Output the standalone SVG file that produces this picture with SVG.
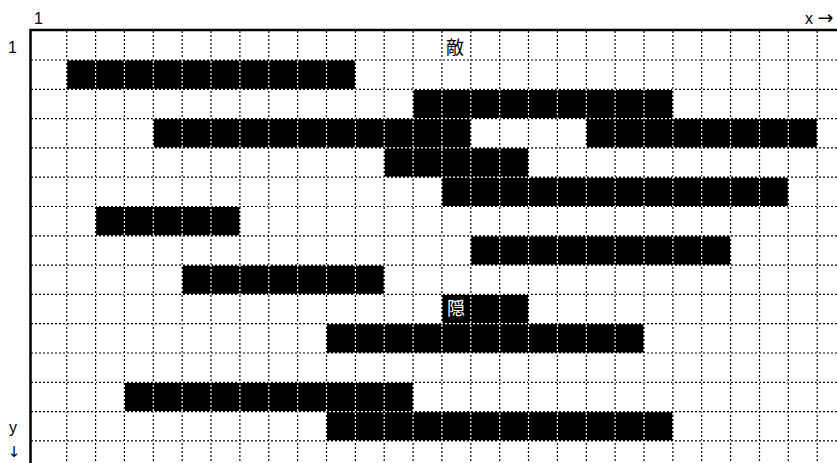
<svg xmlns="http://www.w3.org/2000/svg" width="837" height="463" viewBox="0 0 837 463">
<style>
.bar{fill:#000}
.gb{stroke:#000;stroke-width:1.2;stroke-dasharray:2 2;fill:none}
.gw{stroke:#fff;stroke-width:1.2;stroke-dasharray:2 2;stroke-dashoffset:2;fill:none}
.lbl{font-family:"Liberation Sans",Arial,sans-serif;font-size:16px;fill:#000}
.arr{font-family:"DejaVu Sans",sans-serif;fill:#000}
.cjk{font-family:"Noto Sans CJK JP","Noto Sans CJK SC",sans-serif;font-size:18px}
</style>
<rect x="0" y="0" width="837" height="463" fill="#fff"/>
<g id="bars">
<rect class="bar" x="66.7" y="60" width="288.7" height="29.3"/>
<rect class="bar" x="413.1" y="89.3" width="259.8" height="29.3"/>
<rect class="bar" x="153.3" y="118.6" width="317.5" height="29.3"/>
<rect class="bar" x="586.3" y="118.6" width="230.9" height="29.3"/>
<rect class="bar" x="384.2" y="147.9" width="144.3" height="29.3"/>
<rect class="bar" x="441.9" y="177.2" width="346.4" height="29.3"/>
<rect class="bar" x="95.6" y="206.5" width="144.3" height="29.3"/>
<rect class="bar" x="470.8" y="235.8" width="259.8" height="29.3"/>
<rect class="bar" x="182.2" y="265.1" width="202" height="29.3"/>
<rect class="bar" x="441.9" y="294.4" width="86.6" height="29.3"/>
<rect class="bar" x="326.5" y="323.7" width="317.5" height="29.3"/>
<rect class="bar" x="124.4" y="382.3" width="288.7" height="29.3"/>
<rect class="bar" x="326.5" y="411.6" width="346.4" height="29.3"/>
</g>
<g id="grid">
<path class="gb" d="M66.7 31V463M95.6 31V463M124.4 31V463M153.3 31V463M182.2 31V463M211 31V463M239.9 31V463M268.8 31V463M297.6 31V463M326.5 31V463M355.4 31V463M384.2 31V463M413.1 31V463M441.9 31V463M470.8 31V463M499.7 31V463M528.5 31V463M557.4 31V463M586.3 31V463M615.1 31V463M644 31V463M672.9 31V463M701.7 31V463M730.6 31V463M759.5 31V463M788.3 31V463M817.2 31V463M31 60H837M31 89.3H837M31 118.6H837M31 147.9H837M31 177.2H837M31 206.5H837M31 235.8H837M31 265.1H837M31 294.4H837M31 323.7H837M31 353H837M31 382.3H837M31 411.6H837M31 440.9H837"/>
<path class="gw" d="M66.7 31V463M95.6 31V463M124.4 31V463M153.3 31V463M182.2 31V463M211 31V463M239.9 31V463M268.8 31V463M297.6 31V463M326.5 31V463M355.4 31V463M384.2 31V463M413.1 31V463M441.9 31V463M470.8 31V463M499.7 31V463M528.5 31V463M557.4 31V463M586.3 31V463M615.1 31V463M644 31V463M672.9 31V463M701.7 31V463M730.6 31V463M759.5 31V463M788.3 31V463M817.2 31V463M31 60H837M31 89.3H837M31 118.6H837M31 147.9H837M31 177.2H837M31 206.5H837M31 235.8H837M31 265.1H837M31 294.4H837M31 323.7H837M31 353H837M31 382.3H837M31 411.6H837M31 440.9H837"/>
</g>
<g id="axes">
<path d="M30.5 463V30H837" stroke="#000" stroke-width="2.5" fill="none"/>
<text class="lbl" x="34" y="24">1</text>
<text class="lbl" x="8" y="53">1</text>
<text class="lbl" x="805" y="23.5">x <tspan class="arr" font-size="19">→</tspan></text>
<text class="lbl" x="9" y="433">y</text>
<text class="arr" x="14" y="457" font-size="15" text-anchor="middle">↓</text>
</g>
<g id="labels">
<text class="cjk" x="446" y="53.5" fill="#000">敵</text>
<text class="cjk" x="447" y="315" fill="#fff">隠</text>
</g>
</svg>
